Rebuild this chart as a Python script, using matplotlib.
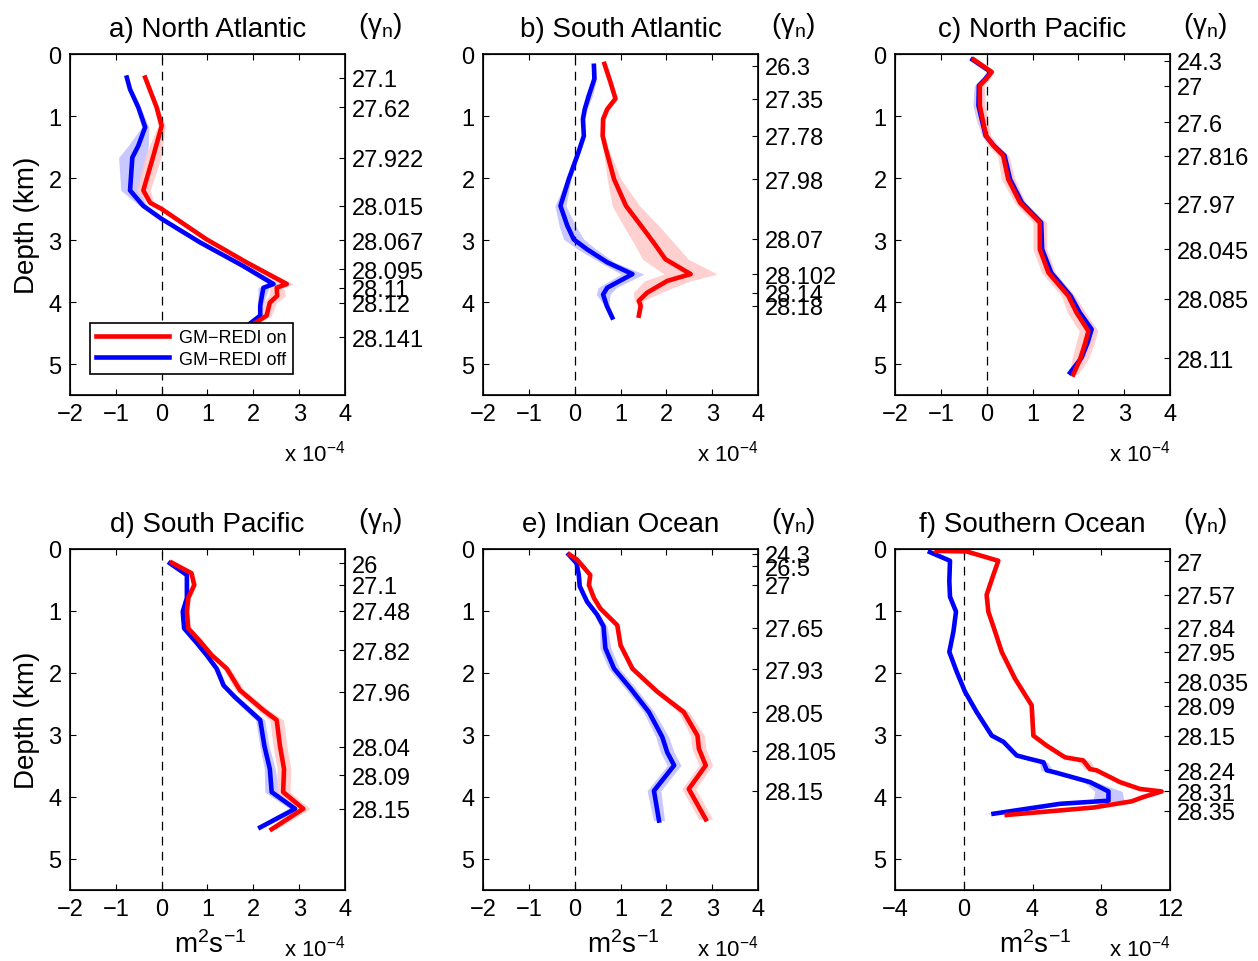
import matplotlib
matplotlib.use('Agg')
import matplotlib.pyplot as plt

plt.rcParams['font.family'] = ['Liberation Sans', 'DejaVu Sans']
plt.rcParams['mathtext.fontset'] = 'custom'
plt.rcParams['mathtext.rm'] = 'Liberation Sans'
plt.rcParams['mathtext.it'] = 'Liberation Sans'
plt.rcParams['mathtext.default'] = 'regular'

# ---- data (x in units of 1e-4 m2/s, depth in km) ----
titles = ['a) North Atlantic', 'b) South Atlantic', 'c) North Pacific',
          'd) South Pacific', 'e) Indian Ocean', 'f) Southern Ocean']

# a) North Atlantic
a_on_z = [0.38, 0.86, 1.16, 1.64, 2.20, 2.40, 2.50, 2.99, 3.36, 3.71, 3.77, 3.90, 4.01, 4.22, 4.39, 4.55]
a_on_x = [-0.36, -0.11, 0.00, -0.18, -0.40, -0.25, 0.00, 0.98, 1.85, 2.73, 2.51, 2.52, 2.36, 2.29, 1.93, 1.75]
a_on_sd = [0.03, 0.05, 0.08, 0.18, 0.15, 0.08, 0.05, 0.05, 0.08, 0.15, 0.15, 0.18, 0.15, 0.10, 0.08, 0.05]
a_off_z = [0.38, 0.57, 0.86, 1.18, 1.48, 1.67, 2.20, 2.45, 2.66, 3.04, 3.42, 3.71, 3.77, 3.93, 4.06, 4.22, 4.39, 4.55]
a_off_x = [-0.76, -0.69, -0.51, -0.36, -0.51, -0.64, -0.69, -0.40, 0.00, 0.84, 1.78, 2.44, 2.22, 2.18, 2.15, 2.15, 1.85, 1.70]
a_off_sd = [0.03, 0.03, 0.05, 0.08, 0.22, 0.30, 0.20, 0.08, 0.05, 0.05, 0.08, 0.12, 0.12, 0.08, 0.06, 0.05, 0.05, 0.05]
a_gz = [0.38, 0.86, 1.67, 2.45, 3.00, 3.47, 3.77, 4.01, 4.57]
a_gl = ['27.1', '27.62', '27.922', '28.015', '28.067', '28.095', '28.11', '28.12', '28.141']

# b) South Atlantic
b_on_z = [0.16, 0.43, 0.72, 0.89, 1.05, 1.32, 1.53, 2.02, 2.45, 2.83, 3.09, 3.31, 3.55, 3.66, 3.85, 3.98, 4.06, 4.22]
b_on_x = [0.65, 0.77, 0.89, 0.71, 0.62, 0.61, 0.68, 0.86, 1.12, 1.51, 1.77, 1.98, 2.53, 2.02, 1.58, 1.40, 1.44, 1.40]
b_on_sd = [0.04, 0.04, 0.05, 0.05, 0.05, 0.05, 0.06, 0.15, 0.30, 0.40, 0.45, 0.50, 0.58, 0.50, 0.30, 0.10, 0.05, 0.05]
b_off_z = [0.19, 0.40, 0.67, 0.89, 1.05, 1.32, 1.59, 2.02, 2.45, 2.77, 2.99, 3.15, 3.36, 3.55, 3.77, 3.88, 4.06, 4.25]
b_off_x = [0.42, 0.43, 0.31, 0.22, 0.18, 0.20, 0.08, -0.13, -0.31, -0.16, -0.02, 0.27, 0.71, 1.26, 0.71, 0.62, 0.70, 0.82]
b_off_sd = [0.04, 0.05, 0.08, 0.05, 0.04, 0.04, 0.04, 0.05, 0.12, 0.18, 0.22, 0.20, 0.16, 0.25, 0.20, 0.15, 0.05, 0.04]
b_gz = [0.19, 0.72, 1.32, 2.02, 2.98, 3.55, 3.85, 4.06]
b_gl = ['26.3', '27.35', '27.78', '27.98', '28.07', '28.102', '28.14', '28.18']

# c) North Pacific
c_on_z = [0.09, 0.29, 0.40, 0.51, 0.83, 1.05, 1.32, 1.48, 1.64, 2.02, 2.40, 2.72, 3.15, 3.53, 3.90, 4.17, 4.47, 4.66, 4.92, 5.17]
c_on_x = [-0.28, 0.11, -0.01, -0.15, -0.15, -0.09, -0.01, 0.15, 0.36, 0.47, 0.73, 1.16, 1.16, 1.35, 1.78, 1.96, 2.22, 2.15, 2.04, 1.89]
c_on_sd = [0.03, 0.05, 0.08, 0.10, 0.12, 0.12, 0.10, 0.12, 0.12, 0.15, 0.12, 0.15, 0.15, 0.15, 0.15, 0.20, 0.20, 0.20, 0.18, 0.10]
c_off_z = [0.09, 0.29, 0.40, 0.51, 0.83, 1.05, 1.32, 1.48, 1.64, 2.02, 2.40, 2.72, 3.15, 3.53, 3.90, 4.17, 4.44, 4.66, 4.90, 5.14]
c_off_x = [-0.31, 0.09, -0.03, -0.17, -0.18, -0.11, -0.02, 0.16, 0.39, 0.51, 0.77, 1.19, 1.21, 1.41, 1.83, 2.03, 2.29, 2.20, 2.07, 1.82]
c_off_sd = [0.03, 0.05, 0.08, 0.10, 0.12, 0.12, 0.08, 0.08, 0.08, 0.08, 0.08, 0.08, 0.08, 0.08, 0.08, 0.10, 0.12, 0.10, 0.08, 0.05]
c_gz = [0.11, 0.51, 1.10, 1.64, 2.41, 3.15, 3.95, 4.91]
c_gl = ['24.3', '27', '27.6', '27.816', '27.97', '28.045', '28.085', '28.11']

# d) South Pacific
d_on_z = [0.22, 0.39, 0.58, 0.79, 1.01, 1.28, 1.49, 1.71, 1.93, 2.28, 2.60, 2.76, 3.17, 3.55, 3.92, 4.19, 4.52]
d_on_x = [0.22, 0.65, 0.71, 0.58, 0.55, 0.58, 0.84, 1.09, 1.42, 1.71, 2.22, 2.51, 2.58, 2.67, 2.65, 3.09, 2.40]
d_on_sd = [0.03, 0.05, 0.05, 0.05, 0.05, 0.05, 0.05, 0.06, 0.08, 0.10, 0.12, 0.15, 0.15, 0.15, 0.15, 0.15, 0.10]
d_off_z = [0.23, 0.42, 0.79, 1.01, 1.28, 1.52, 1.71, 1.93, 2.20, 2.39, 2.76, 3.17, 3.55, 3.92, 4.19, 4.49]
d_off_x = [0.18, 0.55, 0.55, 0.46, 0.49, 0.77, 0.98, 1.20, 1.35, 1.60, 2.15, 2.24, 2.36, 2.40, 2.91, 2.15]
d_off_sd = [0.03, 0.04, 0.04, 0.04, 0.04, 0.05, 0.05, 0.06, 0.06, 0.08, 0.10, 0.10, 0.12, 0.15, 0.12, 0.08]
d_gz = [0.23, 0.58, 1.00, 1.63, 2.30, 3.19, 3.65, 4.19]
d_gl = ['26', '27.1', '27.48', '27.82', '27.96', '28.04', '28.09', '28.15']

# e) Indian Ocean
e_on_z = [0.09, 0.17, 0.28, 0.42, 0.58, 0.79, 0.96, 1.23, 1.55, 1.93, 2.30, 2.63, 3.01, 3.22, 3.49, 3.87, 4.36]
e_on_x = [-0.11, 0.05, 0.18, 0.34, 0.31, 0.42, 0.56, 0.93, 1.00, 1.26, 1.80, 2.38, 2.68, 2.71, 2.86, 2.49, 2.86]
e_on_sd = [0.03, 0.03, 0.04, 0.04, 0.04, 0.04, 0.04, 0.05, 0.05, 0.05, 0.06, 0.12, 0.15, 0.15, 0.15, 0.15, 0.15]
e_off_z = [0.09, 0.23, 0.42, 0.60, 0.85, 1.06, 1.25, 1.60, 1.93, 2.25, 2.63, 3.03, 3.28, 3.49, 3.90, 4.38]
e_off_x = [-0.13, 0.04, 0.09, 0.11, 0.27, 0.49, 0.63, 0.67, 0.86, 1.22, 1.62, 1.91, 2.02, 2.17, 1.73, 1.84]
e_off_sd = [0.03, 0.04, 0.04, 0.04, 0.05, 0.06, 0.08, 0.12, 0.12, 0.12, 0.12, 0.14, 0.15, 0.15, 0.15, 0.12]
e_gz = [0.08, 0.28, 0.58, 1.27, 1.94, 2.63, 3.25, 3.90]
e_gl = ['24.3', '26.5', '27', '27.65', '27.93', '28.05', '28.105', '28.15']

# f) Southern Ocean
f_on_z = [0.03, 0.04, 0.19, 0.42, 0.74, 1.01, 1.33, 1.66, 2.09, 2.52, 3.01, 3.17, 3.36, 3.41, 3.55, 3.57, 3.76, 3.87, 3.91, 4.00, 4.07, 4.17, 4.29]
f_on_x = [-1.58, 0.17, 2.01, 1.72, 1.33, 1.43, 1.82, 2.21, 2.98, 3.95, 4.05, 4.82, 5.89, 6.95, 7.34, 7.73, 9.09, 10.25, 11.51, 10.45, 9.77, 7.54, 2.50]
f_on_sd = [0.05, 0.05, 0.10, 0.10, 0.10, 0.10, 0.10, 0.10, 0.10, 0.10, 0.10, 0.15, 0.20, 0.40, 0.30, 0.20, 0.20, 0.25, 0.30, 0.30, 0.25, 0.20, 0.10]
f_off_z = [0.05, 0.19, 0.52, 0.77, 1.01, 1.33, 1.66, 1.98, 2.30, 2.63, 3.01, 3.11, 3.33, 3.38, 3.44, 3.57, 3.61, 3.76, 3.91, 4.06, 4.11, 4.27]
f_off_x = [-1.97, -0.80, -0.84, -0.80, -0.45, -0.60, -0.84, -0.41, 0.07, 0.75, 1.63, 2.31, 3.08, 3.76, 4.64, 4.83, 5.41, 7.35, 8.42, 8.42, 5.60, 1.73]
f_off_sd = [0.05, 0.08, 0.08, 0.08, 0.08, 0.08, 0.08, 0.08, 0.08, 0.08, 0.10, 0.10, 0.15, 0.15, 0.25, 0.35, 0.25, 0.35, 0.80, 0.90, 0.50, 0.60]
f_gz = [0.20, 0.74, 1.27, 1.66, 2.14, 2.53, 3.01, 3.57, 3.91, 4.22]
f_gl = ['27', '27.57', '27.84', '27.95', '28.035', '28.09', '28.15', '28.24', '28.31', '28.35']

panels = [
    (a_on_z, a_on_x, a_on_sd, a_off_z, a_off_x, a_off_sd, a_gz, a_gl),
    (b_on_z, b_on_x, b_on_sd, b_off_z, b_off_x, b_off_sd, b_gz, b_gl),
    (c_on_z, c_on_x, c_on_sd, c_off_z, c_off_x, c_off_sd, c_gz, c_gl),
    (d_on_z, d_on_x, d_on_sd, d_off_z, d_off_x, d_off_sd, d_gz, d_gl),
    (e_on_z, e_on_x, e_on_sd, e_off_z, e_off_x, e_off_sd, e_gz, e_gl),
    (f_on_z, f_on_x, f_on_sd, f_off_z, f_off_x, f_off_sd, f_gz, f_gl),
]

W, H = 1258, 962
fig = plt.figure(figsize=(W / 100, H / 100), dpi=100)
lefts = [70, 483, 895]
bottoms = [566, 71]

for i, (zon, xon, son, zoff, xoff, soff, gz, gl) in enumerate(panels):
    row, col = divmod(i, 3)
    ax = fig.add_axes([lefts[col] / W, bottoms[row] / H, 275 / W, 341 / H])

    # shaded spread
    ax.fill_betweenx(zoff, [x - s for x, s in zip(xoff, soff)], [x + s for x, s in zip(xoff, soff)],
                     color='#c8c8ff', lw=0, zorder=1)
    ax.fill_betweenx(zon, [x - s for x, s in zip(xon, son)], [x + s for x, s in zip(xon, son)],
                     color='#ffc8c8', lw=0, alpha=0.85, zorder=1)
    ax.axvline(0, color='k', lw=0.9, ls=(0, (7, 5)), zorder=1.5)
    l_off, = ax.plot(xoff, zoff, color='#0000ff', lw=3.3, zorder=2, label='GM\u2212REDI off')
    l_on, = ax.plot(xon, zon, color='#ff0000', lw=3.3, zorder=3, label='GM\u2212REDI on')

    ax.set_ylim(5.5, 0)
    if i == 5:
        ax.set_xlim(-4, 12)
        ax.set_xticks([-4, 0, 4, 8, 12])
    else:
        ax.set_xlim(-2, 4)
        ax.set_xticks(range(-2, 5))
    ax.set_yticks(range(0, 6))
    ax.tick_params(direction='in', top=True, right=True, length=4, labelsize=17, pad=6)
    for s in ax.spines.values():
        s.set_linewidth(1.2)

    ax2 = ax.twinx()
    ax2.set_ylim(5.5, 0)
    ax2.set_yticks(gz)
    ax2.set_yticklabels(gl)
    ax2.tick_params(direction='in', length=4, labelsize=17, pad=5)

    ax.set_title(titles[i], fontsize=20, pad=13)
    ax.text(1.13, 1.085, r'($\gamma_n$)', transform=ax.transAxes, fontsize=20, ha='center', va='center')
    ax.text(1.0, -0.168, r'x 10$^{-4}$', transform=ax.transAxes, fontsize=16, ha='right', va='center')
    if row == 1:
        ax.text(0.51, -0.16, r'm$^2$s$^{-1}$', transform=ax.transAxes, fontsize=20, ha='center', va='center')
    if col == 0:
        ax.set_ylabel('Depth (km)', fontsize=20, labelpad=6)
    if i == 0:
        leg = ax.legend(handles=[l_on, l_off], loc='lower left', bbox_to_anchor=(0.04, 0.035),
                        fontsize=13, handlelength=4.0, fancybox=False, framealpha=1,
                        edgecolor='k', borderpad=0.35, labelspacing=0.25, handletextpad=0.6)
        leg.get_frame().set_linewidth(1.2)
        leg.set_zorder(10)

fig.savefig('out.png', dpi=100)
